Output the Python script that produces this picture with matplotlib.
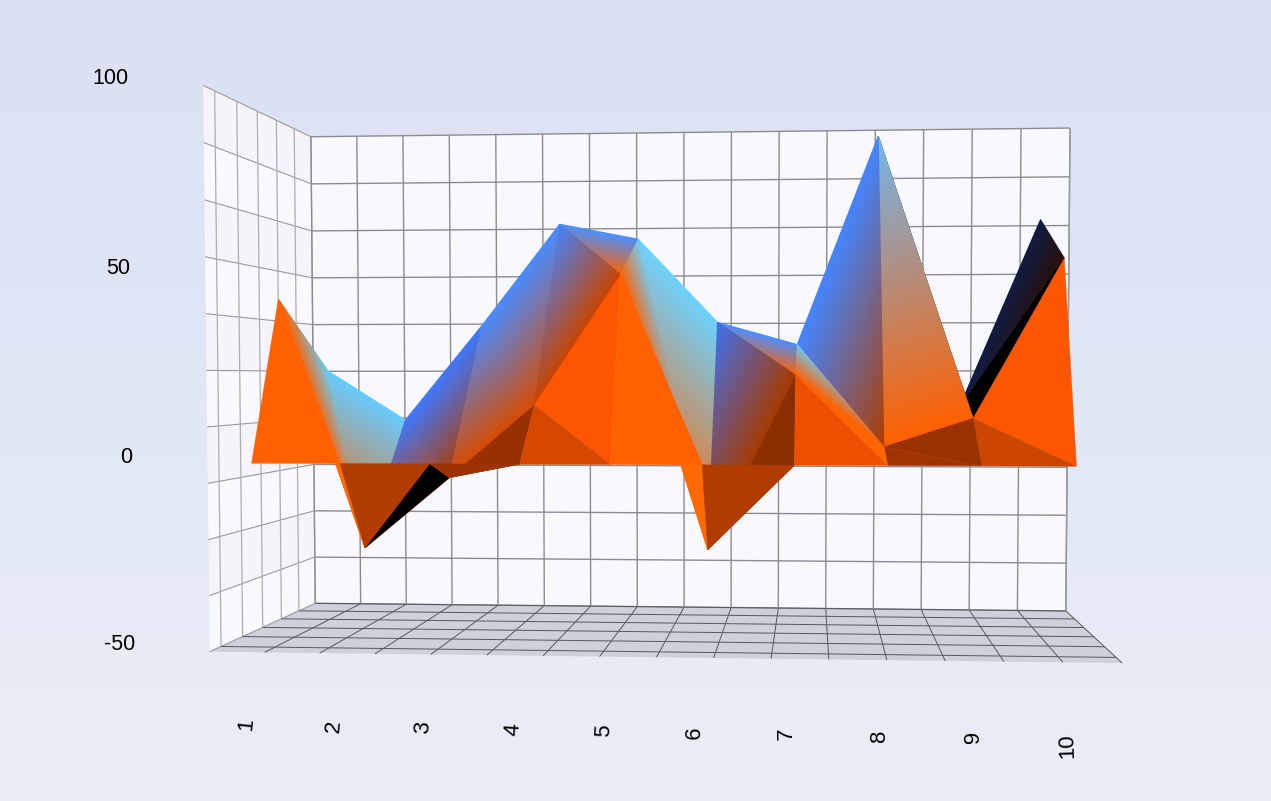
import numpy as np
import matplotlib
matplotlib.use('Agg')
import matplotlib.pyplot as plt
from matplotlib.colors import LinearSegmentedColormap
from matplotlib.patches import Polygon

plt.rcParams['font.family'] = ['Liberation Sans', 'DejaVu Sans']

categories = ['1', '2', '3', '4', '5', '6', '7', '8', '9', '10']
orange_values = [44.9, -24.4, -4.7, 15.5, 51.2, -24.2, 23.7, 4.2, 12.0, 55.0]
blue_values = [25.0, 10.0, 38.9, 69.4, 64.7, 39.6, 32.9, 94.8, 13.0, 69.7]
value_labels = [100, 50, 0, -50]

# depth of each row of the surface, 0 = front edge of floor, 1 = back wall
W_ORANGE = 0.25
W_BLUE = 0.75
BASE_LEVEL = 0.4

# box corners on screen, used to fit the camera
corners_3d = [(0, 100, 0), (0, -50, 0), (0, 100, 1), (0, -50, 1), (1, 100, 1), (1, -50, 1), (1, -50, 0)]
corners_px = [(203, 85), (210, 652), (311, 137), (315, 603), (1070, 128), (1066, 611), (1122, 663)]


def fit_camera():
    rows = []
    for (u, v, w), (x, y) in zip(corners_3d, corners_px):
        rows.append([u, v, w, 1, 0, 0, 0, 0, -x * u, -x * v, -x * w, -x])
        rows.append([0, 0, 0, 0, u, v, w, 1, -y * u, -y * v, -y * w, -y])
    _, _, vt = np.linalg.svd(np.array(rows, dtype=float))
    return vt[-1].reshape(3, 4)


P = fit_camera()


def project(u, v, w):
    p = P @ np.array([u, v, w, 1.0])
    return p[0] / p[2], p[1] / p[2]


def cat_u(i):
    return (i + 0.5) / len(categories)


fig = plt.figure(figsize=(12.71, 8.01), dpi=100)
ax = fig.add_axes([0, 0, 1, 1])
ax.axis('off')

# page background
bg = LinearSegmentedColormap.from_list('bg', ['#dbe0f5', '#e9eef7'])
ax.imshow(np.linspace(0, 1, 256).reshape(-1, 1), cmap=bg, extent=(0, 1271, 801, 0), aspect='auto', zorder=0)


def wall(pts, color, z=1):
    ax.add_patch(Polygon(pts, closed=True, facecolor=color, edgecolor='none', zorder=z))


def line3d(a, b, color, lw, z=2):
    pa, pb = project(*a), project(*b)
    ax.plot([pa[0], pb[0]], [pa[1], pb[1]], color=color, lw=lw, zorder=z, solid_capstyle='butt')


# walls
wall([project(0, -50, 1), project(1, -50, 1), project(1, 100, 1), project(0, 100, 1)], '#f8f9fe')
wall([project(0, -50, 0), project(1, -50, 0), project(1, -50, 1), project(0, -50, 1)], '#cdd1dc')
v_grid = np.linspace(-50, 100, 11)
for k in range(10):
    color = '#f6f4f9' if k % 2 == 1 else '#f8faff'
    wall([project(0, v_grid[k], 0), project(0, v_grid[k + 1], 0),
          project(0, v_grid[k + 1], 1), project(0, v_grid[k], 1)], color)

# grid, depth lines count from the back wall so the front cell is cut short
w_grid = 1 - 0.182 * np.arange(6)
for v in v_grid:
    line3d((0, v, 0), (0, v, 1), '#9a9a9a', 0.8)
    line3d((0, v, 1), (1, v, 1), '#8c8c8c', 1.0)
for w in w_grid:
    line3d((0, -50, w), (0, 100, w), '#adadad', 0.9)
    line3d((0, -50, w), (1, -50, w), '#55585f', 0.7)
for u in np.linspace(0, 1, 17):
    line3d((u, -50, 1), (u, 100, 1), '#8c8c8c', 1.0)
    if 0 < u:
        line3d((u, -50, 0), (u, -50, 1), '#55585f', 0.7)
line3d((1, -50, 1), (1, 100, 1), '#9a9a9a', 1.0)

# surface points
n = len(categories)
base = [project(cat_u(i), BASE_LEVEL, 0) for i in range(n)]
orange = [project(cat_u(i), orange_values[i], W_ORANGE) for i in range(n)]
blue = [project(cat_u(i), blue_values[i], W_BLUE) for i in range(n)]

# face colours, two per cell of the upper strip: (orange end, blue end)
upper_a = [('#ff6000', '#66cfff'), ('#c04000', '#3f78ff'), ('#d84c00', '#4a8cff'),
           ('#c84400', '#4585ff'), ('#ff6000', '#6fd0ff'), ('#a83a00', '#4070f0'),
           ('#ff6000', '#6fc8f0'), ('#ff6000', '#70b8f0'), ('#000000', '#000000')]
upper_b = [('#ff6400', '#66ccff'), ('#b03c00', '#3f78ff'), ('#d84c00', '#4a8cff'),
           ('#ff6000', '#4a90ff'), ('#ff6400', '#6ed2ff'), ('#ff6000', '#4a90ff'),
           ('#b03c00', '#4585ff'), ('#201008', '#101c44'), ('#2a1006', '#101c44')]
# lower strip, one flat colour per triangle
lower_a = ['#ff6000', '#b03c00', '#9c3200', '#d64800', '#ff6000', '#b03c00', '#ee5000', '#a03400', '#cc4600']
lower_b = ['#ff6a00', '#000000', '#993000', '#fd5500', '#ff6a00', '#8c2f00', '#ff6400', '#9a3200', '#fc5600']

# painter's order, outer cells first, camera sits near category 7
order = [0, 1, 2, 3, 4, 5, 8, 7, 6]


def gouraud(pts, vals, c0, c1, z):
    cmap = LinearSegmentedColormap.from_list('f', [c0, c1])
    xs = [p[0] for p in pts]
    ys = [p[1] for p in pts]
    ax.tripcolor(xs, ys, [[0, 1, 2]], vals, shading='gouraud', cmap=cmap, vmin=0, vmax=1, zorder=z)


z = 5
for i in order:
    gouraud([orange[i + 1], blue[i + 1], blue[i]], [0, 1, 1], upper_b[i][0], upper_b[i][1], z)
    z += 0.01
    gouraud([orange[i], orange[i + 1], blue[i]], [0, 0, 1], upper_a[i][0], upper_a[i][1], z)
    z += 0.01
z = 6
for i in order:
    ax.add_patch(Polygon([orange[i], orange[i + 1], base[i + 1]], closed=True, facecolor=lower_b[i],
                         edgecolor=lower_b[i], lw=0.3, zorder=z))
    z += 0.01
    ax.add_patch(Polygon([base[i], base[i + 1], orange[i]], closed=True, facecolor=lower_a[i],
                         edgecolor=lower_a[i], lw=0.3, zorder=z))
    z += 0.01

# labels
for val in value_labels:
    x, y = project(0, val, 0)
    ax.text(x - 75, y - 7, str(val), ha='right', va='center', fontsize=15.5, color='#000000', zorder=10)
for i, c in enumerate(categories):
    x, y = project(cat_u(i), -50, 0)
    ax.text(x - 7.5, y + 65 + i * 0.6, c, ha='center', va='top', rotation=84 + i * 0.9,
            fontsize=16, color='#000000', zorder=10)

ax.set_xlim(0, 1271)
ax.set_ylim(801, 0)
fig.savefig('out.png', dpi=100)
